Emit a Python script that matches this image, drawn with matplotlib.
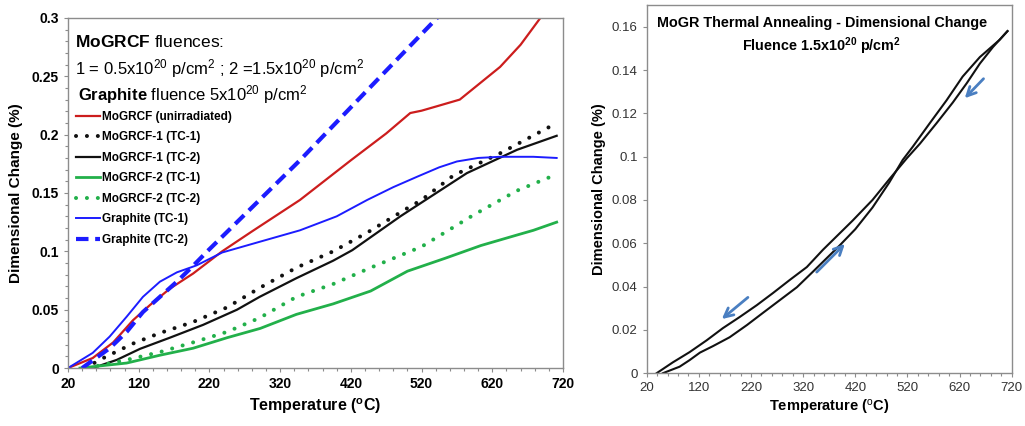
import matplotlib
matplotlib.use("Agg")
import matplotlib.pyplot as plt
from matplotlib.ticker import MultipleLocator, FuncFormatter

plt.rcParams['font.family'] = ['Liberation Sans', 'DejaVu Sans']
plt.rcParams['mathtext.fontset'] = 'custom'
plt.rcParams['mathtext.rm'] = 'Liberation Sans'
plt.rcParams['mathtext.bf'] = 'Liberation Sans:bold'
plt.rcParams['mathtext.it'] = 'Liberation Sans:italic'

NARROW = ['Liberation Sans Narrow', 'Liberation Sans', 'DejaVu Sans']

# ---- dilatometry curves, MoGRCF and graphite (T in degC, dL/L in %) ----
red_T = [20, 55, 84, 112, 136, 164, 197, 238, 280, 348, 420, 470, 504, 520, 540, 574, 631, 660, 688, 700]
red_y = [0, 0.0086, 0.022, 0.041, 0.054, 0.068, 0.081, 0.1, 0.117, 0.144, 0.178, 0.201, 0.2185, 0.2205,
         0.224, 0.23, 0.258, 0.277, 0.3, 0.31]

mogrcf1_tc1_T = [44, 70, 112, 150, 197, 245, 292, 343, 395, 443, 500, 520, 565, 631, 702]
mogrcf1_tc1_y = [0, 0.0086, 0.021, 0.030, 0.0395, 0.052, 0.069, 0.086, 0.1, 0.116, 0.137, 0.144, 0.165,
                 0.184, 0.207]

mogrcf1_tc2_T = [55, 89, 122, 164, 211, 259, 291, 343, 395, 422, 490, 584, 655, 711]
mogrcf1_tc2_y = [0, 0.007, 0.0165, 0.026, 0.037, 0.05, 0.061, 0.077, 0.092, 0.101, 0.13, 0.167, 0.187, 0.199]

mogrcf2_tc1_T = [37, 103, 150, 197, 245, 292, 343, 395, 448, 500, 553, 604, 655, 678, 711]
mogrcf2_tc1_y = [0, 0.0043, 0.011, 0.017, 0.026, 0.034, 0.046, 0.055, 0.066, 0.083, 0.094, 0.105, 0.114,
                 0.118, 0.125]

mogrcf2_tc2_T = [47, 103, 150, 197, 245, 291, 343, 395, 448, 520, 593, 655, 711]
mogrcf2_tc2_y = [0, 0.007, 0.0137, 0.022, 0.031, 0.043, 0.061, 0.072, 0.086, 0.104, 0.131, 0.152, 0.166]

graph_tc1_T = [20, 55, 79, 103, 126, 150, 174, 202, 238, 290, 348, 400, 443, 480, 514, 545, 570, 600, 631,
               678, 711]
graph_tc1_y = [0, 0.013, 0.027, 0.044, 0.061, 0.074, 0.082, 0.088, 0.099, 0.108, 0.118, 0.13, 0.144, 0.155,
               0.164, 0.172, 0.177, 0.18, 0.181, 0.181, 0.18]

graph_tc2_T = [40, 79, 103, 126, 150, 174, 196, 217, 348, 440, 542]
graph_tc2_y = [0, 0.017, 0.031, 0.048, 0.061, 0.074, 0.087, 0.1, 0.178, 0.236, 0.3]

# ---- MoGR annealing loop ----
heat_T = [51, 83, 102, 122, 147, 179, 212, 242, 275, 308, 338, 371, 390, 420, 453, 485, 511, 530, 563,
          595, 626, 659, 697, 712]
heat_y = [0, 0.003, 0.006, 0.0095, 0.0125, 0.0166, 0.0222, 0.0277, 0.0337, 0.0397, 0.0467, 0.0545, 0.059,
          0.0665, 0.0765, 0.088, 0.0985, 0.1045, 0.1155, 0.126, 0.137, 0.146, 0.154, 0.158]
cool_T = [712, 684, 659, 634, 607, 576, 544, 519, 485, 453, 415, 377, 358, 327, 294, 262, 231, 198, 166,
          135, 102, 70, 39]
cool_y = [0.158, 0.1506, 0.143, 0.134, 0.125, 0.1155, 0.106, 0.0993, 0.0895, 0.080, 0.0705, 0.0615, 0.057,
          0.049, 0.043, 0.037, 0.0314, 0.0259, 0.0208, 0.0152, 0.0097, 0.005, 0]

# arrows on the loop: (T_start, y_start, T_end, y_end)
arrows = [(666, 0.136, 630, 0.127),
          (214, 0.035, 164, 0.025),
          (346, 0.0467, 400, 0.0597)]

x_ticks = [20, 120, 220, 320, 420, 520, 620, 720]
left_yticks = [0, 0.05, 0.1, 0.15, 0.2, 0.25, 0.3]
right_yticks = [0, 0.02, 0.04, 0.06, 0.08, 0.1, 0.12, 0.14, 0.16]

RED = '#cc1d1d'
GREEN = '#22b04a'
BLUE = '#1c1cff'
BLACK = '#111111'
ARROW = '#4a7fc1'
SPINE = '#8c8c8c'

fig = plt.figure(figsize=(10.25, 4.26), dpi=100)
ax1 = fig.add_axes([0.0663, 0.136, 0.483, 0.822])
ax2 = fig.add_axes([0.631, 0.124, 0.356, 0.864])

dot = dict(linestyle=(0, (0.01, 2.7)), dash_capstyle='round', lw=2.9)

ax1.plot(red_T, red_y, color=RED, lw=1.6, label='MoGRCF (unirradiated)')
ax1.plot(mogrcf1_tc1_T, mogrcf1_tc1_y, color=BLACK, label='MoGRCF-1 (TC-1)', **dot)
ax1.plot(mogrcf1_tc2_T, mogrcf1_tc2_y, color=BLACK, lw=1.6, label='MoGRCF-1 (TC-2)')
ax1.plot(mogrcf2_tc1_T, mogrcf2_tc1_y, color=GREEN, lw=2.0, label='MoGRCF-2 (TC-1)')
ax1.plot(mogrcf2_tc2_T, mogrcf2_tc2_y, color=GREEN, label='MoGRCF-2 (TC-2)', **dot)
ax1.plot(graph_tc1_T, graph_tc1_y, color=BLUE, lw=1.4, label='Graphite (TC-1)')
ax1.plot(graph_tc2_T, graph_tc2_y, color=BLUE, lw=3.0, linestyle=(0, (3, 1.6)),
         label='Graphite (TC-2)')

ax1.set_xlim(20, 720)
ax1.set_ylim(0, 0.3)
ax1.set_xticks(x_ticks)
ax1.set_yticks(left_yticks)
ax1.xaxis.set_minor_locator(MultipleLocator(20))
ax1.yaxis.set_minor_locator(MultipleLocator(0.01))
ax1.yaxis.set_major_formatter(FuncFormatter(lambda v, p: f'{v:g}'))
for lab in ax1.get_xticklabels() + ax1.get_yticklabels():
    lab.set_family(NARROW)
    lab.set_fontweight('bold')
    lab.set_fontsize(10)
ax1.tick_params(which='both', direction='out', color=SPINE, length=3, width=0.8)
ax1.tick_params(which='minor', length=2)
ax1.set_xlabel(r'Temperature ($^{\mathbf{o}}$C)', family=NARROW, fontweight='bold',
               fontsize=11.5, labelpad=4)
ax1.set_ylabel('Dimensional Change (%)', family=NARROW, fontweight='bold',
               fontsize=11, labelpad=6)

ax1.text(0.015, 0.93, r'$\mathbf{MoGRCF}$ fluences:', transform=ax1.transAxes,
         fontsize=12.5, va='center')
ax1.text(0.015, 0.855, r'1 = 0.5x10$^{20}$ p/cm$^{2}$ ; 2 =1.5x10$^{20}$ p/cm$^{2}$',
         transform=ax1.transAxes, fontsize=12, va='center')
ax1.text(0.02, 0.78, r'$\mathbf{Graphite}$ fluence 5x10$^{20}$ p/cm$^{2}$',
         transform=ax1.transAxes, fontsize=12, va='center')

ax1.legend(loc='upper left', bbox_to_anchor=(0.0, 0.758), frameon=False,
           prop=dict(family=NARROW, weight='bold', size=8.5),
           handlelength=2.0, handletextpad=0.2, labelspacing=0.72,
           borderaxespad=0.3)

# annealing loop
ax2.plot(heat_T, heat_y, color=BLACK, lw=1.5)
ax2.plot(cool_T, cool_y, color=BLACK, lw=1.5)
for t0, y0, t1, y1 in arrows:
    ax2.annotate('', xy=(t1, y1), xytext=(t0, y0),
                 arrowprops=dict(arrowstyle='->', color=ARROW, lw=2,
                                 mutation_scale=16, shrinkA=0, shrinkB=0))

ax2.set_xlim(20, 720)
ax2.set_ylim(0, 0.17)
ax2.set_xticks(x_ticks)
ax2.set_yticks(right_yticks)
ax2.xaxis.set_minor_locator(MultipleLocator(20))
ax2.yaxis.set_major_formatter(FuncFormatter(lambda v, p: f'{v:g}'))
ax2.tick_params(which='both', direction='out', color=SPINE, length=3, width=0.8,
                labelsize=9.5, labelcolor='#333333')
ax2.tick_params(which='minor', length=2)
ax2.set_xlabel(r'Temperature ($^{\mathrm{o}}$C)', family=NARROW, fontweight='bold',
               fontsize=10.5, labelpad=3)
ax2.set_ylabel('Dimensional Change (%)', family=NARROW, fontweight='bold',
               fontsize=10.5, labelpad=4)
ax2.text(0.48, 0.915, 'MoGR Thermal Annealing - Dimensional Change\n'
         r'Fluence 1.5x10$^{\mathbf{20}}$ p/cm$^{\mathbf{2}}$',
         transform=ax2.transAxes, ha='center', va='center', fontsize=10.4,
         fontweight='bold', linespacing=1.35)

for ax in (ax1, ax2):
    for s in ax.spines.values():
        s.set_color(SPINE)
        s.set_linewidth(1.0)

fig.savefig('out.png', dpi=100)
